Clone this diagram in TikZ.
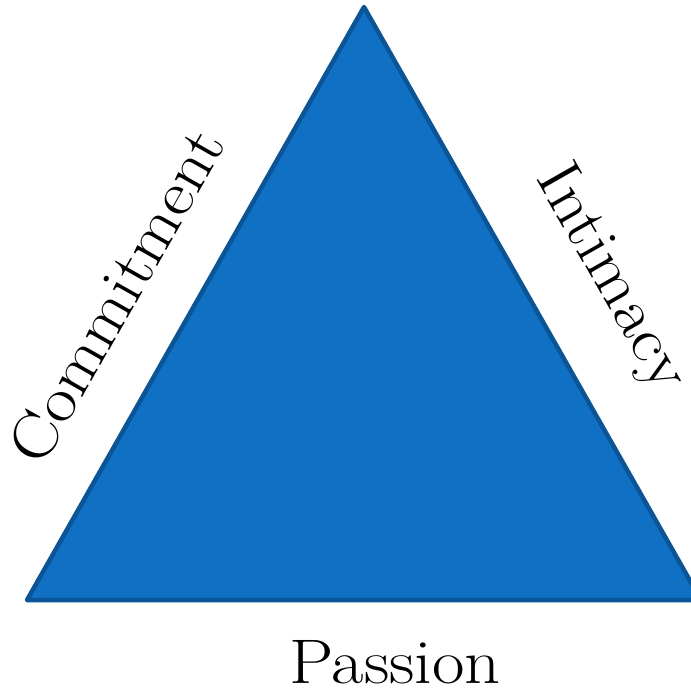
\documentclass[tikz,border=0pt]{standalone}
\definecolor{trifill}{RGB}{16,113,196}
\definecolor{triedge}{RGB}{11,84,150}
\newcommand{\widetext}[1]{\scalebox{1.12}[1]{#1}}
\begin{document}
\begin{tikzpicture}[x=1pt,y=-1pt,
  lbl/.style={inner sep=0pt,font=\fontsize{63}{70}\selectfont,text=black}]
\useasboundingbox (0,0) rectangle (691,688);
\fill[white] (0,0) rectangle (691,688);
\begin{scope}
\clip (0,0) rectangle (691,688);
\coordinate (top) at (364,7);
\coordinate (bl) at (27,600);
\coordinate (br) at (701,600);
\draw[fill=trifill,draw=triedge,line width=4.5pt,line join=round] (top) -- (br) -- (bl) -- cycle;
\end{scope}
\node[lbl,rotate=60.4] (commit) at (116,296) {\widetext{Commitment}};
\node[lbl,rotate=-60.4] (intim) at (610,279) {\widetext{Intimacy}};
\node[lbl] (pass) at (395,662) {\widetext{Passion}};
\end{tikzpicture}
\end{document}
